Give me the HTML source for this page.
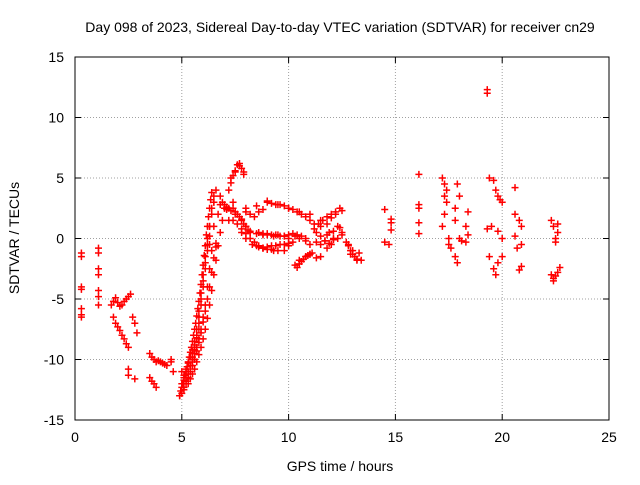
<!DOCTYPE html>
<html><head><meta charset="utf-8"><style>
body{margin:0;background:#fff;}
svg text{font-family:"Liberation Sans",sans-serif;font-size:14px;fill:#000;}
</style></head><body>
<svg id="chart" width="640" height="480">
<text x="340" y="32" text-anchor="middle">Day 098 of 2023, Sidereal Day-to-day VTEC variation (SDTVAR) for receiver cn29</text>
<text x="340" y="471" text-anchor="middle">GPS time / hours</text>
<text transform="translate(19,238) rotate(-90)" text-anchor="middle">SDTVAR / TECUs</text>
<g id="grid"></g><g id="ticks"></g><g id="pts"></g>
<rect x="75" y="57" width="534" height="363" fill="none" stroke="#000"/>
</svg>
<script>
const xTicks=[0,5,10,15,20,25];
const yTicks=[-15,-10,-5,0,5,10,15];
const xs=[0.3,0.3,0.3,0.3,0.3,0.3,0.3,1.1,1.1,1.1,1.1,1.1,1.1,1.1,
1.7,1.8,1.9,2.0,2.1,2.2,2.3,2.4,2.5,2.6,1.8,1.9,2.0,2.1,2.2,2.3,2.4,2.5,2.5,2.5,2.8,2.8,2.9,2.7,
3.5,3.6,3.7,3.8,3.9,4.0,4.1,4.2,4.3,4.5,3.5,3.6,3.7,3.8,4.5,4.6,
4.9,5.0,5.1,5.2,5.3,5.4,5.5,5.6,5.7,5.8,5.9,6.0,6.1,6.2,6.3,6.4,6.5,
5.2,5.3,5.4,5.5,5.6,5.7,5.8,5.9,6.0,6.1,6.2,6.3,6.4,6.5,
5.0,5.1,5.2,5.4,5.5,5.6,5.7,5.8,5.9,6.0,6.1,6.2,6.3,6.4,
5.5,5.6,5.7,5.8,5.9,6.0,6.1,6.2,6.3,
6.3,6.5,6.7,7.0,7.3,7.5,7.7,7.9,6.6,6.5,6.6,6.8,7.1,7.2,7.4,7.6,
8.0,8.5,9.0,9.5,10.0,10.5,11.0,11.5,
7.5,7.8,8.0,8.2,8.5,8.8,9.0,9.3,9.5,9.8,10.0,10.3,10.5,10.8,11.0,
7.8,8.0,8.3,8.5,8.8,9.0,9.3,9.5,9.8,10.0,10.2,
10.3,10.5,10.8,11.0,11.3,11.5,11.8,12.0,12.3,12.5,12.8,13.0,13.2,12.9,
11.5,11.8,12.0,12.2,12.5,11.8,12.1,12.4,
14.5,14.5,14.7,14.8,14.8,14.8,
16.1,16.1,16.1,16.1,16.1,
17.2,17.3,17.4,17.3,17.2,17.5,17.5,17.6,17.8,17.9,17.9,18.0,17.8,18.0,18.1,18.3,18.4,18.4,18.3,17.4,17.3,17.8,
19.3,19.3,19.4,19.6,19.7,19.8,20.0,19.5,19.3,19.4,19.6,19.7,19.8,20.0,19.8,20.0,19.9,
20.6,20.6,20.8,20.9,20.7,20.9,20.9,20.8,20.6,
22.3,22.4,22.6,22.6,22.5,22.3,22.4,22.5,22.6,22.7,22.5,22.4];
const ys=[-1.2,-1.5,-4,-4.2,-5.8,-6.3,-6.5,-0.8,-1.2,-2.5,-3,-4.3,-4.8,-5.5,
-5.5,-5.2,-4.9,-5.3,-5.6,-5.5,-5.2,-5,-4.8,-4.6,-6.5,-7,-7.3,-7.6,-8,-8.3,-8.7,-9,-10.8,-11.3,-11.6,-7,-7.8,-6.5,
-9.5,-9.8,-10,-10.2,-10.1,-10.2,-10.3,-10.4,-10.5,-10,-11.5,-11.8,-12,-12.3,-10.2,-11,
-13,-12.8,-12.3,-11.8,-11.2,-10.5,-9.5,-8.5,-7.5,-6,-4.5,-3,-1.5,0,1,2,3,
-11.5,-11,-10.5,-9.8,-9,-8,-6.5,-5,-3.5,-2,-0.5,1,2.5,3.5,
-12,-11.5,-11,-10.5,-10,-9.5,-9,-8.3,-7.5,-6.5,-5.5,-4,-2.5,-1,
-10,-9.2,-8.2,-7,-5.5,-4,-2.5,-1,0.2,
-0.5,1,2,2.5,5,5.5,6,5.5,4,3,-0.7,2.8,2.4,1.5,3,2,
2.5,2.7,3,2.8,2.5,2.2,2,1.5,
2,1.6,1,0.6,0.4,0.3,0.3,0.2,0.3,0.2,0,0.2,0,-0.2,-0.5,
0.5,0,-0.5,-0.6,-0.8,-0.9,-1,-1,-1,-0.6,-0.3,
-2.2,-1.8,-1.5,-1.3,-1.6,-1.5,-0.8,-0.5,0,0.5,-0.5,-1,-1.8,-1.3,
1,1.2,1.7,2,2.3,0.3,0.6,0.9,
2.4,-0.3,-0.5,0.7,1.3,1.6,
5.3,2.8,2.5,1.3,0.4,
5,4.5,3,2,1,0,-0.5,-0.8,-1.5,-2,4.5,3.5,1.5,0,-0.2,-0.3,2.2,0.3,1,4,3.5,2.5,
12.3,12,5,4.8,4,3.5,3,1,0.8,-1.5,-2.5,-3,-2,-1.5,0.6,0,3.2,
4.2,2,1.5,1,-0.8,-0.5,-2.3,-2.6,0.2,
1.5,1,0.5,1.2,0,-3,-3.3,-3.1,-2.8,-2.4,-0.3,-3.5];
const xs2=[4.9,4.95,5.0,5.05,5.1,5.15,5.2,5.25,5.3,5.35,5.4,5.45,5.5,5.55,5.6,5.65,5.7,5.75,5.8,5.85,5.9,5.95,6.0,6.05,6.1,6.15,6.2,6.25,6.3,6.35,6.4,
5.3,5.4,5.5,5.6,5.7,5.8,5.9,6.0,6.1,6.2,6.3,6.4,6.5,6.6,6.7,6.8,6.9,7.0,
5.1,5.2,5.3,5.4,5.5,5.6,5.7,5.8,5.9,6.0,6.1,6.2,6.3,6.4,6.5,6.6,
5.0,5.1,5.2,5.3,5.4,5.5,5.6,5.7,5.8,
7.2,7.3,7.4,7.5,7.6,7.7,7.8,7.9,
6.8,6.9,7.0,7.1,7.2,7.3,7.4,7.5,7.6,7.7,7.8,7.9,8.0,8.1,8.2,
7.4,7.6,7.8,8.0,8.2,8.4,8.6,8.8,9.0,9.2,
8.0,8.2,8.4,8.6,8.8,
9.0,9.2,9.4,9.6,9.8,10.0,10.2,10.4,10.6,10.8,11.0,11.2,
8.6,8.8,9.0,9.2,9.4,9.6,9.8,10.0,10.2,10.4,10.6,10.8,
8.6,8.8,9.0,9.2,9.4,9.6,9.8,10.0,
10.4,10.5,10.6,10.7,10.8,10.9,11.0,11.1,
11.2,11.3,11.4,11.5,11.6,11.7,11.8,11.9,12.0,12.1,12.2,12.3,12.4,12.5,
11.3,11.5,11.7,11.9,12.1,
12.7,12.8,12.9,13.0,13.1,13.2,13.3,13.4];
const ys2=[-13,-12.6,-12.3,-12,-11.7,-11.3,-11,-10.6,-10.2,-9.8,-9.4,-9,-8.5,-8,-7.5,-7,-6.4,-5.8,-5.2,-4.5,-3.8,-3,-2.2,-1.4,-0.6,0.3,1,1.8,2.5,3.2,3.8,
-12,-11.6,-11.2,-10.8,-10.2,-9.6,-9,-8.3,-7.5,-6.6,-5.5,-4.3,-3,-1.8,-0.6,0.5,1.5,2.5,
-12.5,-12,-11.5,-11,-10.5,-10,-9.3,-8.6,-7.8,-6.9,-6,-5,-4,-2.8,-1.6,-0.4,
-11,-11.3,-10.8,-10.3,-9.8,-9.2,-8.8,-8,-7.5,
4,4.6,5.2,5.6,6.1,6.2,5.8,5.3,
3.5,3,2.8,2.6,2.5,2.3,2.5,2.2,2,1.8,1.5,1.2,1,0.7,0.5,
1.5,1.2,0.8,0.4,0,-0.3,-0.6,-0.8,-0.9,-0.9,
2.2,2,1.8,2.2,2.4,
3.1,2.9,2.8,2.8,2.7,2.5,2.4,2.2,2,1.8,1.5,1.2,
0.5,0.4,0.4,0.3,0.3,0.2,0.2,0.3,0.4,0.3,0.2,0,
-0.7,-0.8,-0.7,-0.6,-0.6,-0.5,-0.5,-0.4,
-2.4,-2.1,-1.9,-1.7,-1.5,-1.4,-1.3,-1.2,
0.8,0.5,1.2,0.2,1.5,-0.2,1.8,0.5,2,0,2.2,1,2.5,0.3,
-0.3,-0.5,-0.2,-0.4,-0.1,
-0.3,-0.6,-1,-1.3,-1.5,-1.7,-1.2,-1.8];
const X=v=>75+v*534/25, Y=v=>420-(v+15)*363/30;
const NS="http://www.w3.org/2000/svg";
const grid=document.getElementById('grid'),ticks=document.getElementById('ticks'),pts=document.getElementById('pts');
function mk(t,a,p){const e=document.createElementNS(NS,t);for(const k in a)e.setAttribute(k,a[k]);p.appendChild(e);return e;}
xTicks.forEach(v=>{const x=X(v);
 if(v>0&&v<25){const g=mk('line',{x1:x,x2:x,y1:57,y2:420,stroke:'#a0a0a0','stroke-dasharray':'1,2'},grid);
 
 }
 mk('line',{x1:x,x2:x,y1:420,y2:414,stroke:'#000'},ticks);mk('line',{x1:x,x2:x,y1:57,y2:63,stroke:'#000'},ticks);
 const t=mk('text',{x:x,y:442,'text-anchor':'middle'},ticks);t.textContent=v;
 
 });
yTicks.forEach(v=>{const y=Y(v);
 if(v>-15&&v<15){const g=mk('line',{x1:75,x2:609,y1:y,y2:y,stroke:'#a0a0a0','stroke-dasharray':'1,2'},grid);
 
 }
 mk('line',{x1:75,x2:81,y1:y,y2:y,stroke:'#000'},ticks);mk('line',{x1:609,x2:603,y1:y,y2:y,stroke:'#000'},ticks);
 const t=mk('text',{x:64,y:y+5,'text-anchor':'end'},ticks);t.textContent=v;
 
 });
function plot(ax,ay){for(let i=0;i<ax.length;i++){const x=X(ax[i]),y=Y(ay[i]);
 const p=mk('path',{d:`M${x-3.5},${y}h7M${x},${y-3.5}v7`,stroke:'#f00','stroke-width':1.5},pts);
 
 }}
plot(xs,ys);plot(xs2,ys2);
</script>
</body></html>
